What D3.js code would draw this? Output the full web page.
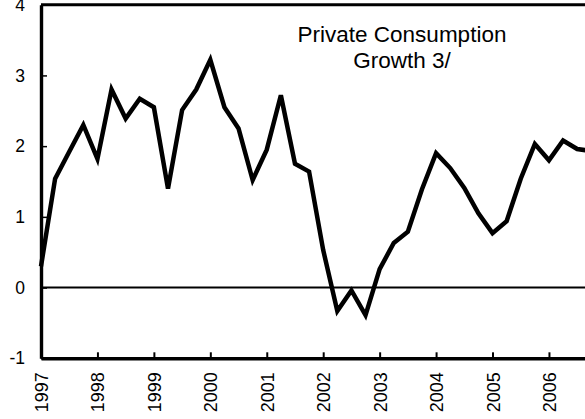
<!DOCTYPE html>
<html>
<head>
<meta charset="utf-8">
<script src="https://cdn.jsdelivr.net/npm/d3@7"></script>
<style>
  body { margin: 0; background: #fff; }
  svg { display: block; font-family: "Liberation Sans", Arial, sans-serif; }
  .axis path, .axis line { stroke: #000; }
  .axis text { fill: #000; }
</style>
</head>
<body>
<svg id="chart" width="585" height="419"></svg>
<script>
// quarterly periods and values
const quarters = [
  "1997Q1","1997Q2","1997Q3","1997Q4",
  "1998Q1","1998Q2","1998Q3","1998Q4",
  "1999Q1","1999Q2","1999Q3","1999Q4",
  "2000Q1","2000Q2","2000Q3","2000Q4",
  "2001Q1","2001Q2","2001Q3","2001Q4",
  "2002Q1","2002Q2","2002Q3","2002Q4",
  "2003Q1","2003Q2","2003Q3","2003Q4",
  "2004Q1","2004Q2","2004Q3","2004Q4",
  "2005Q1","2005Q2","2005Q3","2005Q4",
  "2006Q1","2006Q2","2006Q3","2006Q4"
];
const growth = [
  0.30, 1.54, 1.92, 2.30,
  1.82, 2.80, 2.39, 2.67,
  2.55, 1.40, 2.51, 2.80,
  3.22, 2.55, 2.25, 1.52,
  1.95, 2.72, 1.75, 1.64,
  0.53, -0.33, -0.04, -0.39,
  0.26, 0.63, 0.79, 1.39,
  1.90, 1.69, 1.41, 1.05,
  0.77, 0.94, 1.54, 2.03,
  1.80, 2.08, 1.96, 1.93
];
const yearTicks = [1997, 1998, 1999, 2000, 2001, 2002, 2003, 2004, 2005, 2006];
const yTicks = [-1, 0, 1, 2, 3, 4];
const titleLines = ["Private Consumption", "Growth 3/"];

const svg = d3.select("#chart");

// decimal year for "YYYYQn"
const toYear = q => +q.slice(0, 4) + (+q.slice(5) - 1) / 4;

const x = d3.scaleLinear().domain([1997, 2007]).range([41, 605.4]);
const y = d3.scaleLinear().domain([-1, 4]).range([358.3, 4.7]);

// top border
svg.append("line")
    .attr("x1", x(1997)).attr("x2", x(2007))
    .attr("y1", y(4)).attr("y2", y(4))
    .attr("stroke", "#000").attr("stroke-width", 3);

// zero line
svg.append("line")
    .attr("x1", x(1997)).attr("x2", x(2007))
    .attr("y1", y(0)).attr("y2", y(0))
    .attr("stroke", "#000").attr("stroke-width", 2);

// y axis
const yAxis = svg.append("g")
    .attr("class", "axis")
    .attr("transform", `translate(${x(1997)},0)`)
    .call(d3.axisLeft(y).tickValues(yTicks).tickFormat(d3.format("d"))
        .tickSizeInner(-6).tickSizeOuter(0).tickPadding(16));
yAxis.select(".domain").attr("stroke-width", 3.4);
yAxis.selectAll(".tick line").attr("stroke-width", 1.5);
yAxis.selectAll("text").style("font-size", "17.5px").text(d => d < 0 ? "-" + Math.abs(d) : d);

// x axis
const xAxis = svg.append("g")
    .attr("class", "axis")
    .attr("transform", `translate(0,${y(-1)})`)
    .call(d3.axisBottom(x).tickValues(yearTicks).tickFormat(d3.format("d"))
        .tickSizeInner(-6).tickSizeOuter(0));
xAxis.select(".domain").attr("stroke-width", 3.6);
xAxis.selectAll(".tick line").attr("stroke-width", 2);
xAxis.selectAll("text")
    .attr("transform", "rotate(-90)")
    .attr("x", -14)
    .attr("y", 0)
    .attr("dy", "0.36em")
    .style("text-anchor", "end")
    .style("font-size", "18px");

// series line
const line = d3.line()
    .x((d, i) => x(toYear(quarters[i])))
    .y(d => y(d));

svg.append("path")
    .datum(growth)
    .attr("fill", "none")
    .attr("stroke", "#000")
    .attr("stroke-width", 4.5)
    .attr("stroke-linejoin", "miter")
    .attr("d", line);

// title
svg.append("text")
    .attr("x", 402)
    .attr("y", 41.7)
    .attr("text-anchor", "middle")
    .style("font-size", "22.5px")
    .selectAll("tspan")
    .data(titleLines)
    .enter().append("tspan")
    .attr("x", 402)
    .attr("dy", (d, i) => i === 0 ? 0 : 26.6)
    .text(d => d);
</script>
</body>
</html>
